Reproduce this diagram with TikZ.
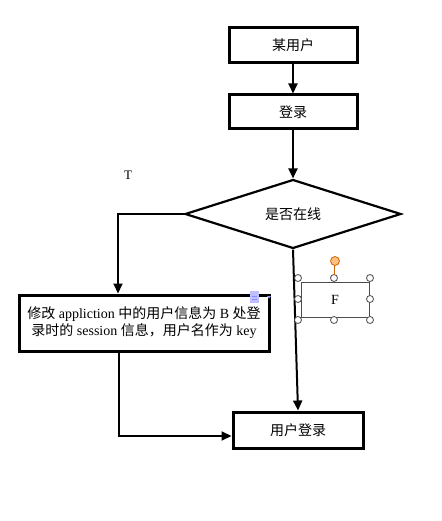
\documentclass[tikz,border=0pt]{standalone}
\usepackage{fontspec}
\setmainfont{Liberation Serif}
\newfontfamily\cjk{Noto Sans CJK SC}
\usetikzlibrary{arrows.meta, shapes.geometric}

\tikzset{
  stepbox/.style={draw, line width=3pt, font=\cjk\fontsize{14}{17}\selectfont},
  flow/.style={->, line width=2pt},
  handle/.style={draw=black!70, fill=white, line width=0.8pt}
}

\begin{document}
\begin{tikzpicture}[x=1pt, y=-1pt, >={Triangle[length=10pt,width=9pt]}]
    \useasboundingbox (0,0) rectangle (441,521);
    %define the boxes
    \node[stepbox, minimum width=128pt, minimum height=35pt] (user) at (293,45.5) {某用户};
    \node[stepbox, minimum width=128pt, minimum height=34pt] (login) at (293,112) {登录};
    \node[draw, diamond, line width=2.2pt, inner sep=0pt, minimum width=216pt, minimum height=58pt,
          font=\cjk\fontsize{14}{17}\selectfont] (online) at (293,214) {是否在线};
    \node[stepbox, minimum width=250pt, minimum height=56pt, align=center,
          font=\fontsize{14}{18}\selectfont] (modify) at (144,323)
          {{\cjk 修改} appliction {\cjk 中的用户信息为} B {\cjk 处登}\\[-1pt]
           {\cjk 录时的} session {\cjk 信息，用户名作为} key};
    \node[stepbox, minimum width=130pt, minimum height=36pt] (userlogin) at (298,430) {用户登录};

    %labels
    \node[font=\fontsize{13}{15}\selectfont] (t) at (128,175) {T};
    \node[draw=black!70, line width=0.8pt, minimum width=68pt, minimum height=35pt,
          font=\fontsize{14}{16}\selectfont] (f) at (335,299.5) {F};

    %define the links
    \draw[flow] (user) -- (login);
    \draw[flow] (login) -- (online.north);
    \draw[flow] (online.west) -| ([xshift=-26pt]modify.north);
    \draw[flow] (online.south) -- (userlogin.north);
    \draw[flow] ([xshift=-25pt]modify.south) |- ([yshift=-6pt]userlogin.west);

    %selection handles round the F box
    \foreach \hx/\hy in {298/278,334/278,370/278,298/299,370/299,298/320,334/320,370/320}
      \draw[handle] (\hx,\hy) circle (3.5pt);
    \draw[orange!80!black, line width=0.8pt] (334,265.5) -- (334,274.5);
    \draw[orange!80!black, fill=orange!50, line width=0.8pt] (335,261) circle (4.5pt);

    %small paste icon
    \fill[blue!25] (250,291) rectangle (259,303);
    \draw[blue!45, line width=0.8pt] (252,296) -- (257,296) (252,299) -- (257,299);
    \fill[blue!40] (267,296) -- (271,296) -- (269,298.5) -- cycle;
\end{tikzpicture}
\end{document}
